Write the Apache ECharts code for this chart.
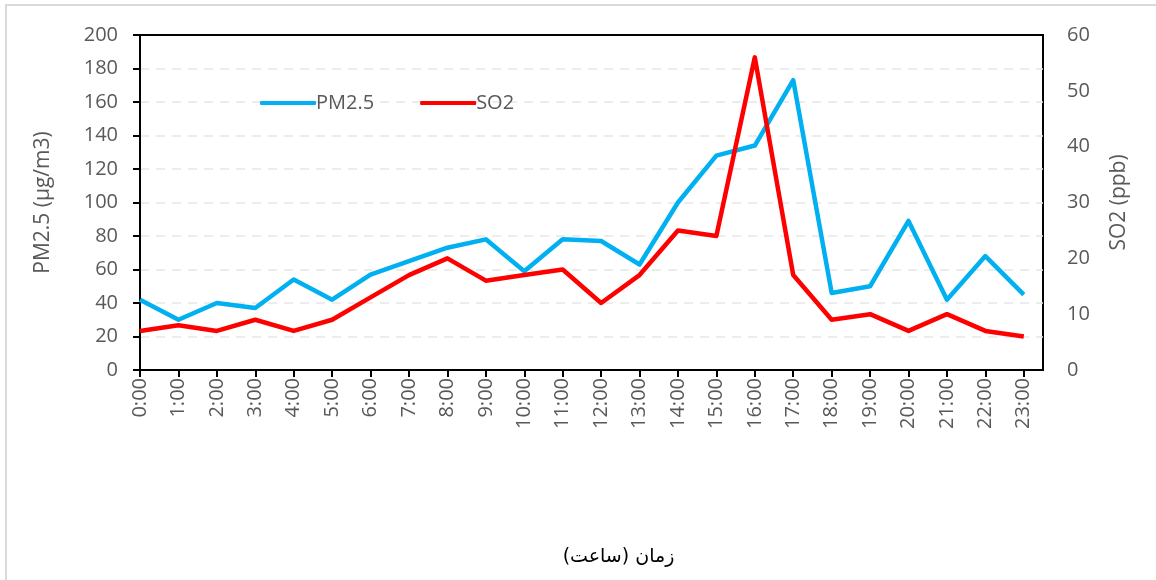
<!DOCTYPE html>
<html>
<head>
<meta charset="utf-8">
<script src="https://cdn.jsdelivr.net/npm/echarts@6/dist/echarts.min.js"></script>
<style>
  html, body { margin: 0; padding: 0; background: #fff; }
  #main { width: 1156px; height: 580px; }
</style>
</head>
<body>
<div id="main"></div>
<script>
// hours of the day
const hours = ['0:00', '1:00', '2:00', '3:00', '4:00', '5:00', '6:00', '7:00', '8:00', '9:00', '10:00', '11:00',
  '12:00', '13:00', '14:00', '15:00', '16:00', '17:00', '18:00', '19:00', '20:00', '21:00', '22:00', '23:00'];
// PM2.5 (µg/m3), left axis
const pm25 = [42, 30, 40, 37, 54, 42, 57, 65, 73, 78, 59, 78, 77, 63, 100, 128, 134, 173, 46, 50, 89, 42, 68, 45];
// SO2 (ppb), right axis
const so2 = [7, 8, 7, 9, 7, 9, 13, 17, 20, 16, 17, 18, 12, 17, 25, 24, 56, 17, 9, 10, 7, 10, 7, 6];

const hourIdx = hours.map((h, i) => i);
const labelColor = '#595959';
const font = '"Open Sans", "Noto Sans", sans-serif';

const chart = echarts.init(document.getElementById('main'));
chart.setOption({
  animation: false,
  backgroundColor: '#fff',
  graphic: [{
    type: 'rect',
    shape: { x: 6, y: 5, width: 1200, height: 620 },
    style: { fill: 'none', stroke: '#d9d9d9', lineWidth: 2 },
    silent: true
  }],
  grid: {
    left: 140, right: 113, top: 35, bottom: 210,
    show: true, borderColor: '#000', borderWidth: 2
  },
  legend: {
    left: 255, top: 88,
    itemWidth: 56, itemHeight: 4, itemGap: 46,
    icon: 'roundRect',
    textStyle: { color: labelColor, fontSize: 20, fontFamily: font, padding: [0, 0, 0, -5] },
    data: ['PM2.5', 'SO2']
  },
  xAxis: [{
    type: 'value',
    min: 0, max: 23.5, interval: 1,
    name: 'زمان (ساعت)',
    nameLocation: 'middle',
    nameGap: 178,
    nameTextStyle: { color: '#000', fontSize: 19, fontFamily: '"DejaVu Sans", sans-serif', padding: [0, 0, 0, 54] },
    axisLine: { lineStyle: { color: '#000', width: 2 } },
    axisTick: { show: true, length: 7, customValues: hourIdx, lineStyle: { color: '#000', width: 2 } },
    axisLabel: {
      customValues: hourIdx,
      rotate: 90, color: labelColor, fontSize: 20, fontFamily: font, margin: 8,
      formatter: v => hours[v] || ''
    },
    splitLine: { show: false }
  }, {
    // top frame line
    type: 'value', position: 'top',
    min: 0, max: 23.5,
    axisLine: { show: true, lineStyle: { color: '#000', width: 2 } },
    axisTick: { show: false },
    axisLabel: { show: false },
    splitLine: { show: false }
  }],
  yAxis: [{
    type: 'value', min: 0, max: 200, interval: 20,
    name: 'PM2.5 (µg/m3)',
    nameLocation: 'middle', nameGap: 86,
    nameTextStyle: { color: labelColor, fontSize: 21, fontFamily: font },
    axisLine: { show: true, lineStyle: { color: '#000', width: 2 } },
    axisTick: { show: true, length: 7, lineStyle: { color: '#000', width: 2 } },
    axisLabel: { color: labelColor, fontSize: 20, fontFamily: font, margin: 22 },
    splitLine: {
      show: true, showMinLine: false, showMaxLine: false,
      lineStyle: { color: '#e6e6e6', type: [9, 7], width: 1.5 }
    }
  }, {
    type: 'value', min: 0, max: 60, interval: 10,
    name: 'SO2 (ppb)',
    nameLocation: 'middle', nameGap: 66,
    nameRotate: 90,
    nameTextStyle: { color: labelColor, fontSize: 21, fontFamily: font },
    axisLine: { show: true, lineStyle: { color: '#000', width: 2 } },
    axisTick: { show: false },
    axisLabel: { color: labelColor, fontSize: 20, fontFamily: font, margin: 24 },
    splitLine: { show: false }
  }],
  series: [{
    name: 'PM2.5', type: 'line', yAxisIndex: 0,
    data: pm25.map((v, i) => [i, v]),
    showSymbol: false, symbol: 'none',
    lineStyle: { color: '#00b0f0', width: 4.5, join: 'round' },
    itemStyle: { color: '#00b0f0' },
    z: 2
  }, {
    name: 'SO2', type: 'line', yAxisIndex: 1,
    data: so2.map((v, i) => [i, v]),
    showSymbol: false, symbol: 'none',
    lineStyle: { color: '#ff0000', width: 4.5, join: 'round' },
    itemStyle: { color: '#ff0000' },
    z: 3
  }]
});
</script>
</body>
</html>
